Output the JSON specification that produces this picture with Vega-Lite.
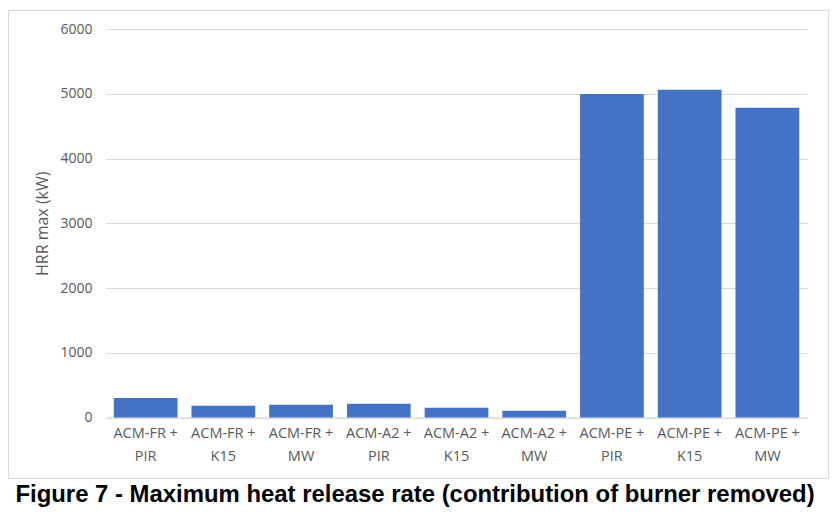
{
  "$schema": "https://vega.github.io/schema/vega-lite/v6.json",
  "width": 820,
  "height": 468,
  "autosize": {"type": "none"},
  "padding": {"left": 8, "top": 10, "right": 11, "bottom": 37},
  "background": "#ffffff",
  "title": {
    "text": "Figure 7 - Maximum heat release rate (contribution of burner removed)",
    "orient": "bottom",
    "anchor": "middle",
    "font": "Liberation Sans",
    "fontSize": 23.9,
    "fontWeight": "bold",
    "color": "#000000",
    "offset": 5,
    "dx": -3
  },
  "data": {
    "values": [
      {"system": "ACM-FR + PIR", "hrr": 300},
      {"system": "ACM-FR + K15", "hrr": 182},
      {"system": "ACM-FR + MW", "hrr": 198},
      {"system": "ACM-A2 + PIR", "hrr": 213},
      {"system": "ACM-A2 + K15", "hrr": 151},
      {"system": "ACM-A2 + MW", "hrr": 105},
      {"system": "ACM-PE + PIR", "hrr": 4995},
      {"system": "ACM-PE + K15", "hrr": 5062},
      {"system": "ACM-PE + MW", "hrr": 4784}
    ]
  },
  "mark": {"type": "bar", "color": "#4472C4"},
  "encoding": {
    "x": {
      "field": "system",
      "type": "nominal",
      "sort": null,
      "scale": {"range": [98, 799], "paddingInner": 0.18, "paddingOuter": 0.1},
      "axis": {
        "title": null,
        "orient": "bottom",
        "offset": -60.5,
        "domain": true,
        "domainColor": "#d9d9d9",
        "domainWidth": 1,
        "ticks": false,
        "tickSize": 0,
        "grid": false,
        "labelAngle": 0,
        "labelPadding": 9,
        "labelFont": "Open Sans",
        "labelFontSize": 14.5,
        "labelColor": "#595959",
        "labelLineHeight": 23,
        "labelExpr": "[substring(datum.label, 0, 8), substring(datum.label, 9)]"
      }
    },
    "y": {
      "field": "hrr",
      "type": "quantitative",
      "scale": {"domain": [0, 6000], "nice": false, "range": [407.5, 19]},
      "axis": {
        "title": "HRR max (kW)",
        "orient": "left",
        "offset": -98,
        "values": [0, 1000, 2000, 3000, 4000, 5000, 6000],
        "format": "d",
        "domain": false,
        "ticks": false,
        "tickSize": 0,
        "grid": true,
        "gridColor": "#d9d9d9",
        "gridWidth": 1,
        "labelPadding": 14,
        "labelFont": "Open Sans",
        "labelFontSize": 14,
        "labelColor": "#595959",
        "titleFont": "Open Sans",
        "titleFontSize": 16,
        "titleFontWeight": "normal",
        "titleColor": "#595959",
        "titlePadding": 9
      }
    }
  },
  "config": {
    "view": {"stroke": "#d9d9d9", "strokeWidth": 1}
  }
}
